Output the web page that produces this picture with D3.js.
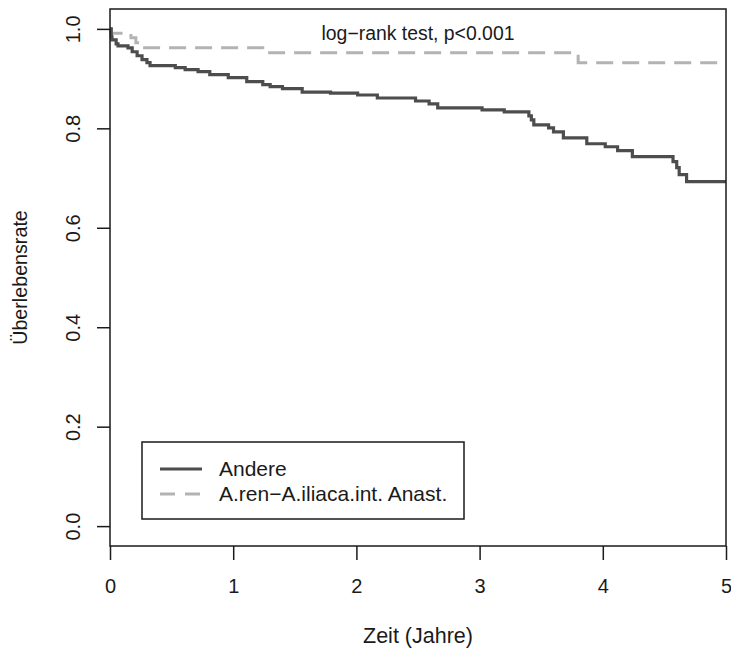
<!DOCTYPE html>
<html>
<head>
<meta charset="utf-8">
<script src="https://cdn.jsdelivr.net/npm/d3@7"></script>
<style>
  body { margin: 0; background: #fff; }
  svg text { font-family: "Liberation Sans", Arial, sans-serif; fill: #1a1a1a; }
</style>
</head>
<body>
<div id="chart"></div>
<script>
// Kaplan-Meier Stufen: Zeit (Jahre) und Überlebensrate nach jedem Ereignis
const andereTime = [0, 0.01, 0.016, 0.05, 0.065, 0.146, 0.18, 0.22, 0.26, 0.30, 0.325, 0.53, 0.61, 0.715, 0.81, 0.96,
  1.11, 1.24, 1.30, 1.40, 1.56, 1.79, 2.01, 2.17, 2.48, 2.59, 2.66, 3.02, 3.20, 3.40, 3.42, 3.44, 3.56, 3.60, 3.68,
  3.87, 4.02, 4.12, 4.24, 4.57, 4.60, 4.62, 4.68, 5];
const andereSurv = [1, 0.984, 0.978, 0.970, 0.966, 0.962, 0.954, 0.946, 0.938, 0.932, 0.926, 0.922, 0.918, 0.914, 0.908, 0.902,
  0.894, 0.888, 0.884, 0.880, 0.873, 0.871, 0.867, 0.861, 0.855, 0.849, 0.841, 0.837, 0.833, 0.825, 0.817, 0.807, 0.801, 0.793, 0.781,
  0.769, 0.763, 0.755, 0.743, 0.733, 0.721, 0.707, 0.693, 0.693];

const anastTime = [0, 0.01, 0.17, 0.21, 0.25, 1.24, 3.80, 5];
const anastSurv = [1, 0.991, 0.982, 0.972, 0.962, 0.952, 0.932, 0.932];

const xTicks = [0, 1, 2, 3, 4, 5];
const yTicks = [0, 0.2, 0.4, 0.6, 0.8, 1.0];
const seriesNames = ["Andere", "A.ren\u2212A.iliaca.int. Anast."];
const testLabel = "log\u2212rank test, p<0.001";

const width = 731, height = 651;
const plot = { left: 110, right: 726, top: 9, bottom: 546 };

const svg = d3.select("#chart").append("svg")
  .attr("width", width)
  .attr("height", height);

// R-Stil: y-Achse mit 4% Puffer, x-Achse exakt
const x = d3.scaleLinear().domain([0, 5]).range([plot.left, plot.right]);
const y = d3.scaleLinear().domain([-0.04, 1.04]).range([plot.bottom, plot.top]);

const toPoints = (t, s) => t.map((d, i) => [d, s[i]]);
const line = d3.line().x(d => x(d[0])).y(d => y(d[1])).curve(d3.curveStepAfter);

// Kurven
svg.append("path")
  .datum(toPoints(anastTime, anastSurv))
  .attr("d", line)
  .attr("fill", "none")
  .attr("stroke", "#b3b3b3")
  .attr("stroke-width", 3)
  .attr("stroke-dasharray", "17,9");

svg.append("path")
  .datum(toPoints(andereTime, andereSurv))
  .attr("d", line)
  .attr("fill", "none")
  .attr("stroke", "#4d4d4d")
  .attr("stroke-width", 3.2);

// Rahmen
svg.append("rect")
  .attr("x", plot.left)
  .attr("y", plot.top)
  .attr("width", plot.right - plot.left)
  .attr("height", plot.bottom - plot.top)
  .attr("fill", "none")
  .attr("stroke", "#1a1a1a")
  .attr("stroke-width", 1.5);

// Achsen
const xAxis = svg.append("g")
  .attr("transform", `translate(0,${plot.bottom})`)
  .call(d3.axisBottom(x).tickValues(xTicks).tickFormat(d3.format("d")).tickSize(14).tickPadding(19));

const yAxis = svg.append("g")
  .attr("transform", `translate(${plot.left},0)`)
  .call(d3.axisLeft(y).tickValues(yTicks).tickFormat(d3.format(".1f")).tickSize(13).tickPadding(0));

[xAxis, yAxis].forEach(g => {
  g.select(".domain").remove();
  g.selectAll(".tick line").attr("stroke", "#1a1a1a").attr("stroke-width", 1.5);
  g.selectAll(".tick text").style("font-size", "20px").attr("fill", "#1a1a1a");
});

// y-Ticklabels gedreht wie in R (las=0)
yAxis.selectAll(".tick text")
  .attr("x", null)
  .attr("text-anchor", "middle")
  .attr("transform", "translate(-37,0) rotate(-90)")
  .attr("dy", "0.35em");

// Achsentitel
svg.append("text")
  .attr("x", (plot.left + plot.right) / 2)
  .attr("y", 643)
  .attr("text-anchor", "middle")
  .style("font-size", "21.5px")
  .text("Zeit (Jahre)");

svg.append("text")
  .attr("transform", `translate(27,${(plot.top + plot.bottom) / 2}) rotate(-90)`)
  .attr("text-anchor", "middle")
  .style("font-size", "19.7px")
  .text("Überlebensrate");

// Test-Beschriftung
svg.append("text")
  .attr("x", (plot.left + plot.right) / 2)
  .attr("y", 40)
  .attr("text-anchor", "middle")
  .style("font-size", "19.4px")
  .text(testLabel);

// Legende
const legend = svg.append("g");
legend.append("rect")
  .attr("x", 142).attr("y", 442)
  .attr("width", 322).attr("height", 77)
  .attr("fill", "#fff")
  .attr("stroke", "#1a1a1a")
  .attr("stroke-width", 1.5);

const legendStyles = [
  { color: "#4d4d4d", dash: null },
  { color: "#b3b3b3", dash: "15,10" }
];

seriesNames.forEach((name, i) => {
  const ly = 469 + i * 25;
  legend.append("line")
    .attr("x1", 160).attr("x2", 202)
    .attr("y1", ly).attr("y2", ly)
    .attr("stroke", legendStyles[i].color)
    .attr("stroke-width", 3)
    .attr("stroke-dasharray", legendStyles[i].dash);
  legend.append("text")
    .attr("x", 219).attr("y", ly)
    .attr("dy", "0.35em")
    .style("font-size", "21px")
    .text(name);
});
</script>
</body>
</html>
